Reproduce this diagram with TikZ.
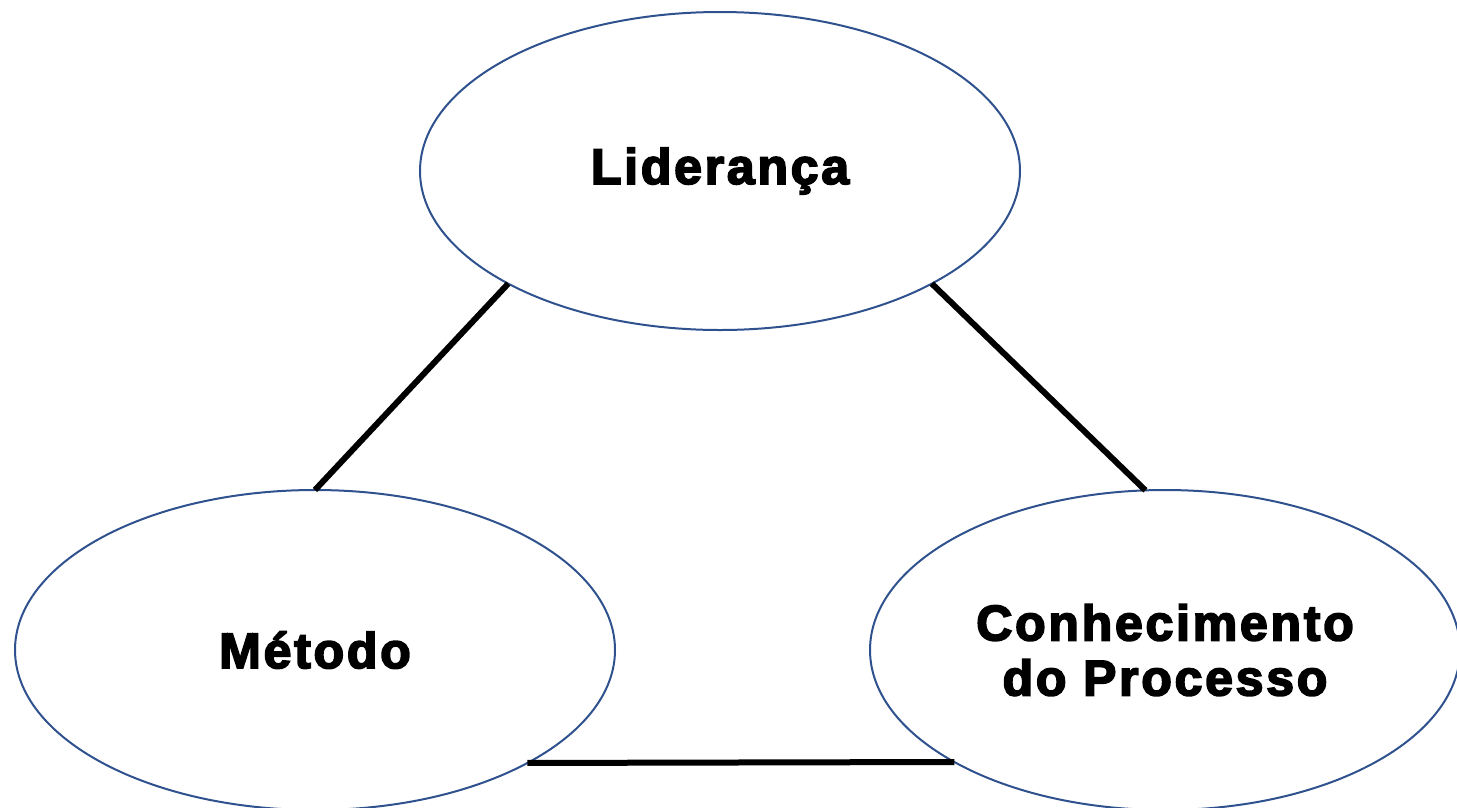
\documentclass[tikz,border=0pt]{standalone}
\usepackage{fontspec}
\setmainfont{Liberation Sans}[LetterSpace=5.5,BoldFeatures={FakeBold=3.5}]
\usetikzlibrary{shapes.geometric}
\definecolor{outline}{HTML}{2F528F}
\begin{document}
\begin{tikzpicture}[x=1pt,y=-1pt,
  bubble/.style={ellipse,draw=outline,line width=2pt,inner sep=0pt,outer sep=0pt,
    minimum width=600pt,minimum height=318pt,align=center,
    font=\fontsize{50}{55}\selectfont\bfseries},
  link/.style={draw=black,line width=6pt}]
\useasboundingbox (0,0) rectangle (1457,807);
\node[bubble] (lid) at (720,171) {Liderança};
\node[bubble,minimum height=320pt] (met) at (315,650) {Método};
\node[bubble,minimum width=590pt,minimum height=320pt] (con) at (1165,650) {Conhecimento\\do Processo};
\draw[link] (lid.208.3) -- (met.90);
\draw[link] (lid.332.1) -- (con.97.5);
\draw[link] (met.-28.25) -- (con.208.25);
\end{tikzpicture}
\end{document}
